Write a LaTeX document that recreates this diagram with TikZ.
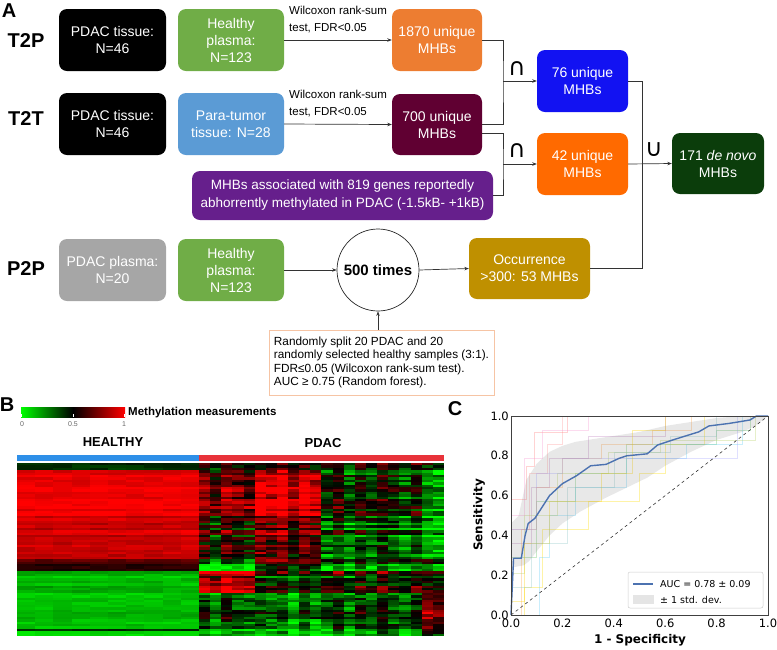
\documentclass[tikz,border=0pt]{standalone}
\usepackage{fontspec}
\setmainfont{Liberation Sans}
\newfontfamily\dejavu{DejaVu Sans}
\usetikzlibrary{arrows.meta,calc}
\definecolor{cblack}{HTML}{000000}
\definecolor{cgreen}{HTML}{70AD47}
\definecolor{cblue}{HTML}{5B9BD5}
\definecolor{corange}{HTML}{ED7D31}
\definecolor{cmaroon}{HTML}{600032}
\definecolor{cbright}{HTML}{1212F2}
\definecolor{corange2}{HTML}{FF6A00}
\definecolor{cpurple}{HTML}{661F8C}
\definecolor{cdkgreen}{HTML}{0B3D0B}
\definecolor{cgray}{HTML}{A6A6A6}
\definecolor{cgold}{HTML}{BF9000}
\definecolor{cnote}{HTML}{F6C4A4}
\definecolor{hblue}{HTML}{2E8FE8}
\definecolor{hred}{HTML}{E8323A}
\definecolor{rocblue}{HTML}{4C72B0}
\begin{document}
\begin{tikzpicture}[x=1pt,y=-1pt,
  box/.style={rounded corners=8pt, text=white, align=center, inner sep=0pt,
    font=\fontsize{14}{17}\selectfont},
  conn/.style={draw=black!80, line width=0.7pt},
  arr/.style={conn, -{Stealth[length=4.5pt,width=3.5pt]}},
  rowlbl/.style={font=\fontsize{20}{22}\selectfont\bfseries},
  panel/.style={font=\fontsize{20}{22}\selectfont\bfseries},
  testlbl/.style={font=\fontsize{11.5}{17}\selectfont, align=left, anchor=north west, inner sep=0pt},
  setop/.style={font=\dejavu\fontsize{24}{24}\selectfont},
  tick/.style={font=\dejavu\fontsize{11.5}{12}\selectfont, inner sep=1pt},
  axlbl/.style={font=\dejavu\fontsize{12}{12}\selectfont\bfseries},
  leg/.style={font=\dejavu\fontsize{9.5}{10}\selectfont, anchor=west, inner sep=0pt},
  faint/.style={line width=0.5pt, opacity=0.35, sharp corners}
]
\useasboundingbox (0,0) rectangle (777,649);

% ---------------- Panel A ----------------
\node[panel] (lblA) at (9,11) {A};
\node[rowlbl] (lblT2P) at (26,41) {T2P};
\node[rowlbl] (lblT2T) at (26,119) {T2T};
\node[rowlbl] (lblP2P) at (26,269) {P2P};

\node[box, fill=cblack, minimum width=107, minimum height=62] (t2p1) at (112.5,40) {PDAC tissue:\\N=46};
\node[box, fill=cgreen, minimum width=106, minimum height=62] (t2p2) at (231,40) {Healthy\\plasma:\\N=123};
\node[box, fill=corange, minimum width=90, minimum height=62] (m1870) at (437,40) {1870 unique\\MHBs};

\node[box, fill=cblack, minimum width=107, minimum height=62] (t2t1) at (112.5,124) {PDAC tissue:\\N=46};
\node[box, fill=cblue, minimum width=106, minimum height=62] (t2t2) at (231,124) {Para-tumor\\tissue: N=28};
\node[box, fill=cmaroon, minimum width=90, minimum height=61] (m700) at (437,124.5) {700 unique\\MHBs};

\node[box, fill=cpurple, minimum width=301, minimum height=49, font=\fontsize{13.5}{18}\selectfont] (genes) at (342.5,195.5)
  {MHBs associated with 819 genes reportedly\\abhorrently methylated in PDAC (-1.5kB- +1kB)};

\node[box, fill=cbright, minimum width=91, minimum height=62] (m76) at (582.5,81) {76 unique\\MHBs};
\node[box, fill=corange2, minimum width=91, minimum height=62] (m42) at (582.5,164) {42 unique\\MHBs};
\node[box, fill=cdkgreen, minimum width=92, minimum height=61] (denovo) at (718,163.5) {171 \textit{de novo}\\MHBs};

\node[box, fill=cgray, minimum width=107, minimum height=62] (p2p1) at (112.5,270) {PDAC plasma:\\N=20};
\node[box, fill=cgreen, minimum width=106, minimum height=62] (p2p2) at (231,270) {Healthy\\plasma:\\N=123};
\node[circle, draw=black!85, line width=0.7pt, minimum size=82, inner sep=0pt,
  font=\fontsize{15}{15}\selectfont\bfseries] (loop) at (378,270) {500 times};
\node[box, fill=cgold, minimum width=121, minimum height=61] (occ) at (529.5,268.5) {Occurrence\\>300: 53 MHBs};

\node[draw=cnote, line width=0.7pt, minimum width=225, minimum height=65, inner sep=3.5pt,
  align=left, font=\fontsize{11.8}{13.4}\selectfont] (note) at (381.5,362.5)
  {Randomly split 20 PDAC and 20\\randomly selected healthy samples (3:1).\\FDR≤0.05 (Wilcoxon rank-sum test).\\AUC ≥ 0.75 (Random forest).};

% connectors
\draw[arr] (t2p2.east) -- (m1870.west);
\node[testlbl] (w1) at (289,6) {Wilcoxon rank-sum\\test, FDR<0.05};
\draw[arr] (t2t2.east) -- (m700.west);
\node[testlbl] (w2) at (289,90) {Wilcoxon rank-sum\\test, FDR<0.05};

\coordinate (j1) at (503,81);
\draw[conn] (m1870.east) -| (j1) |- (m700.east);
\draw[arr] (j1) -- (m76.west);
\node[setop] (cap1) at (517,69) {∩};

\coordinate (j2) at (503,164);
\draw[conn] ($(m700.east)+(0,8.5)$) -| (j2) |- (genes.east);
\draw[arr] (j2) -- (m42.west);
\node[setop] (cap2) at (517,151) {∩};

\coordinate (j3) at (642,268.5);
\draw[conn] (m76.east) -| (j3) -- (occ.east);
\draw[arr] (m42.east) -- (denovo.west);
\node[setop] (cup) at (654,150) {∪};

\draw[arr] (p2p2.east) -- (loop.west);
\draw[arr] (loop.east) -- (occ.west);
\draw[arr] (note.north -| loop.south) -- (loop.south);

% ---------------- Panel B ----------------
\node[panel] (lblB) at (7,405) {B};
\shade[left color=green, right color=black] (21,407) rectangle (73,417);
\shade[left color=black, right color=red] (73,407) rectangle (125,417);
\foreach \tx in {21.5,73,124.5} \draw[white, line width=0.5pt] (\tx,414) -- (\tx,417);
\node[font=\fontsize{7}{7}\selectfont, text=black!60] (t0) at (22,424) {0};
\node[font=\fontsize{7}{7}\selectfont, text=black!60] (t05) at (73,424) {0.5};
\node[font=\fontsize{7}{7}\selectfont, text=black!60] (t1) at (124,424) {1};
\node[anchor=west, inner sep=0pt, font=\fontsize{11.5}{12}\selectfont\bfseries] (mm) at (128,413) {Methylation measurements};
\node[font=\fontsize{13}{13}\selectfont\bfseries] (hh) at (113,442) {HEALTHY};
\node[font=\fontsize{13}{13}\selectfont\bfseries] (pp) at (323,443) {PDAC};
\fill[hblue] (17,455) rectangle (199,461);
\fill[hred] (199,455) rectangle (444,461);

\pgfmathsetseed{7}
\foreach \i in {0,...,71}{
  \pgfmathsetmacro\t{\i/72}
  \pgfmathsetmacro\yy{463+\i*2.4028}
  \pgfmathtruncatemacro\bd{\i==69 ? 6 : (\t<0.04 ? 0 : (\t<0.3 ? 1 : (\t<0.55 ? 2 : (\t<0.62 ? 3 : (\t<0.75 ? 4 : 5)))))}
  \pgfmathsetmacro\rn{0.4*(rnd-0.5)}
  \pgfmathsetmacro\hb{{0.38,0.97,0.9,0.62,0.14,0.12,0.47}[\bd]}
  \foreach \j in {0,...,9}{
    \pgfmathsetmacro\v{\hb+0.3*\rn+0.08*(rnd-0.5)}
    \pgfmathsetmacro\rr{max(0,min(1,2*\v-1))}
    \pgfmathsetmacro\gg{max(0,min(1,1-2*\v))}
    \definecolor{hc}{rgb}{\rr,\gg,0}
    \fill[hc] (17+\j*18.2,\yy) rectangle ++(18.5,2.7);
  }
  \foreach \j in {0,...,21}{
    \pgfmathtruncatemacro\cg{\j<5 ? 0 : (\j<11 ? 1 : (\j<20 ? 2 : 3))}
    \pgfmathsetmacro\pb{{0.45,0.42,0.48,0.4, 0.74,0.9,0.52,0.28, 0.56,0.64,0.4,0.22, 0.15,0.5,0.35,0.42, 0.82,0.34,0.52,0.5, 0.32,0.2,0.4,0.7, 0.32,0.2,0.4,0.7}[\bd*4+\cg]}
    \pgfmathsetmacro\co{{0.05,-0.1,0.1,0,-0.05,0.1,0.05,0.15,-0.05,0.1,0,-0.1,0.05,-0.15,0,-0.1,0.05,-0.05,-0.15,0,0,-0.1}[\j]}
    \pgfmathsetmacro\v{\pb+\co+\rn+0.3*(rnd-0.5)}
    \pgfmathsetmacro\rr{max(0,min(1,2*\v-1))}
    \pgfmathsetmacro\gg{max(0,min(1,1-2*\v))}
    \definecolor{hc}{rgb}{\rr,\gg,0}
    \fill[hc] (199+\j*11.136,\yy) rectangle ++(11.45,2.7);
  }
}

% ---------------- Panel C ----------------
\node[panel] (lblC) at (455,409) {C};
\begin{scope}[shift={(511,615)}, x=257pt, y=199pt]
  \draw[faint, color=pink!80!red] plot coordinates {(0,0) (0,0.43) (0.07,0.43) (0.07,0.71) (0.14,0.71) (0.14,0.86) (0.2,0.86) (0.2,1) (1,1)};
  \draw[faint, color=yellow!80!orange] plot coordinates {(0,0) (0.05,0) (0.05,0.14) (0.12,0.14) (0.12,0.43) (0.3,0.43) (0.3,0.57) (0.5,0.57) (0.5,0.71) (0.6,0.71) (0.6,0.86) (0.75,0.86) (0.75,1) (1,1)};
  \draw[faint, color=green!60!black!60] plot coordinates {(0,0) (0,0.29) (0.1,0.29) (0.1,0.57) (0.25,0.57) (0.25,0.71) (0.45,0.71) (0.45,0.86) (0.8,0.86) (0.8,0.93) (0.93,0.93) (0.93,1) (1,1)};
  \draw[faint, color=orange!70] plot coordinates {(0,0) (0.04,0) (0.04,0.43) (0.1,0.43) (0.1,0.64) (0.2,0.64) (0.2,0.79) (0.35,0.79) (0.35,0.86) (0.55,0.86) (0.55,0.93) (0.7,0.93) (0.7,1) (1,1)};
  \draw[faint, color=violet!50] plot coordinates {(0,0) (0,0.36) (0.08,0.36) (0.08,0.64) (0.15,0.64) (0.15,0.79) (0.3,0.79) (0.3,0.9) (0.6,0.9) (0.6,1) (1,1)};
  \draw[faint, color=cyan!60] plot coordinates {(0,0) (0.11,0) (0.11,0.29) (0.15,0.29) (0.15,0.5) (0.25,0.5) (0.25,0.64) (0.45,0.64) (0.45,0.79) (0.68,0.79) (0.68,0.86) (0.9,0.86) (0.9,1) (1,1)};
  \draw[faint, color=red!50] plot coordinates {(0,0) (0,0.58) (0.06,0.58) (0.06,0.75) (0.09,0.75) (0.09,0.92) (0.22,0.92) (0.22,1) (1,1)};
  \draw[faint, color=lime!70!black!60] plot coordinates {(0,0) (0,0.21) (0.05,0.21) (0.05,0.5) (0.18,0.5) (0.18,0.71) (0.38,0.71) (0.38,0.82) (0.58,0.82) (0.58,0.88) (0.95,0.88) (0.95,1) (1,1)};
  \draw[faint, color=blue!35] plot coordinates {(0,0) (0,0.43) (0.1,0.43) (0.1,0.71) (0.2,0.71) (0.2,0.79) (0.88,0.79) (0.88,1) (1,1)};
  \draw[faint, color=yellow!70!orange] plot coordinates {(0,0) (0,0.07) (0.05,0.07) (0.05,0.36) (0.15,0.36) (0.15,0.57) (0.35,0.57) (0.35,0.71) (0.47,0.71) (0.47,0.93) (0.6,0.93) (0.6,1) (1,1)};
  \draw[faint, color=magenta!40] plot coordinates {(0,0) (0,0.5) (0.05,0.5) (0.05,0.79) (0.12,0.79) (0.12,0.93) (0.3,0.93) (0.3,1) (1,1)};
  \draw[faint, color=teal!45] plot coordinates {(0,0) (0,0.14) (0.08,0.14) (0.08,0.36) (0.22,0.36) (0.22,0.64) (0.4,0.64) (0.4,0.82) (0.62,0.82) (0.62,0.9) (0.8,0.9) (0.8,1) (1,1)};
  \fill[gray, opacity=0.18] plot coordinates {(0,0.46) (0.03,0.5) (0.06,0.68) (0.1,0.76) (0.15,0.82) (0.2,0.85) (0.25,0.87) (0.3,0.88) (0.4,0.9) (0.5,0.92) (0.6,0.95) (0.7,0.97) (0.8,0.99) (0.9,1) (1,1)}
     -- plot coordinates {(0.95,0.95) (0.9,0.92) (0.8,0.88) (0.7,0.82) (0.6,0.75) (0.53,0.69) (0.45,0.64) (0.37,0.59) (0.27,0.52) (0.2,0.46) (0.15,0.4) (0.1,0.32) (0.07,0.27) (0.05,0.25) (0.01,0.24) (0.005,0.1) (0,0)} -- cycle;
  \draw[dashed, black!80, line width=0.6pt] (0,0) -- (1,1);
  \draw[rocblue, line width=1.4pt, line join=round] plot coordinates {(0,0) (0.01,0.285) (0.04,0.285) (0.055,0.4) (0.067,0.46) (0.093,0.486) (0.13,0.56) (0.15,0.6) (0.2,0.66) (0.255,0.70) (0.31,0.75) (0.37,0.757) (0.42,0.787) (0.45,0.8) (0.53,0.81) (0.57,0.854) (0.63,0.88) (0.68,0.9) (0.73,0.92) (0.77,0.95) (0.85,0.963) (0.93,0.98) (0.955,1.0) (1,1)};
  \draw[black!75, line width=0.6pt] (0,0) rectangle (1,1);
  \foreach \v in {0.0,0.2,0.4,0.6,0.8,1.0}{
    \node[tick, anchor=north, yshift=-2.5pt] at (\v,0) {\v};
    \node[tick, anchor=east, xshift=-1pt] at (0,\v) {\v};
  }
\end{scope}
\node[axlbl] (xl) at (640,640) {1 - Specificity};
\node[axlbl, rotate=90] (yl) at (479,515) {Sensitivity};
\draw[gray!40, fill=white, fill opacity=0.8, rounded corners=2pt, line width=0.5pt] (628,572) rectangle (763,608);
\draw[rocblue, line width=1.4pt] (633,584) -- (653,584);
\fill[gray!20] (633,595) rectangle (654,604);
\node[leg] (l1) at (660,584) {AUC = 0.78 ± 0.09};
\node[leg] (l2) at (660,600) {± 1 std. dev.};
\end{tikzpicture}
\end{document}
